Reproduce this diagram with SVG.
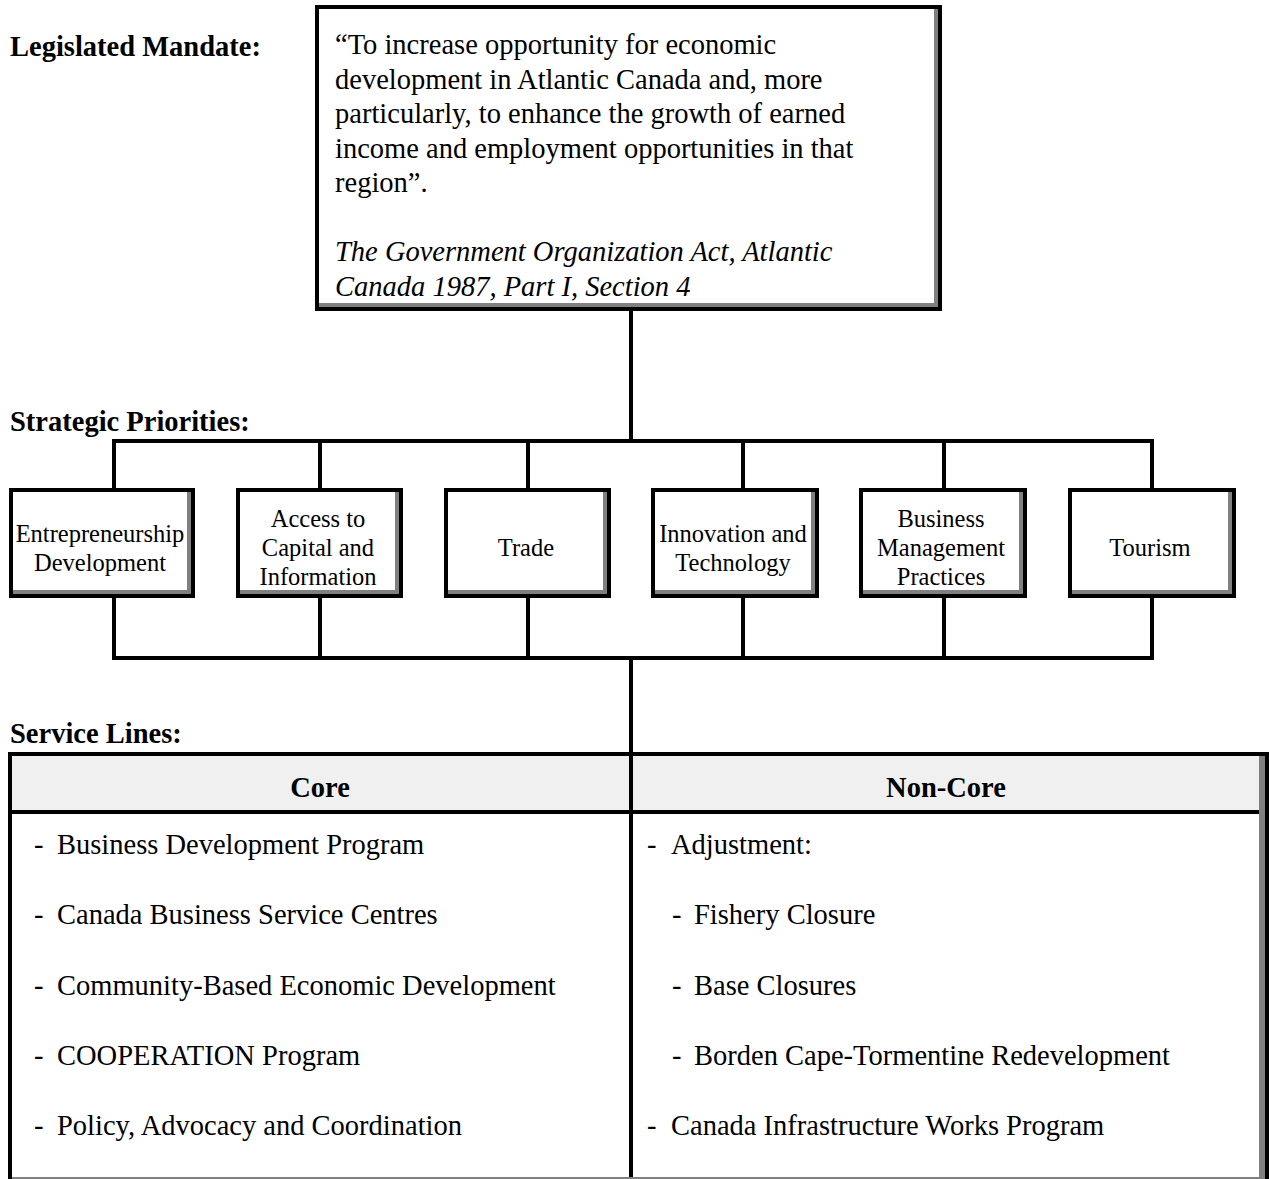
<svg xmlns="http://www.w3.org/2000/svg" width="1269" height="1179" viewBox="0 0 1269 1179">
<style>
  .bk { fill: #000; }
  .gr { fill: #808080; }
  .wh { fill: #fff; }
  .hd { fill: #f0f0f0; }
  .t { font-family: "Liberation Serif", "Times New Roman", serif; font-size: 28.5px; fill: #000; }
  .b { font-weight: bold; }
  .i { font-style: italic; }
  .lb { font-family: "Liberation Serif", "Times New Roman", serif; font-size: 24.5px; fill: #000; text-anchor: middle; }
  .c { text-anchor: middle; }
  .ln { stroke: #000; stroke-width: 4; fill: none; }
</style>
<rect x="0" y="0" width="1269" height="1179" fill="#fff"/>

<g id="section-labels">
  <text class="t b" x="10" y="56">Legislated Mandate:</text>
  <text class="t b" x="10" y="431">Strategic Priorities:</text>
  <text class="t b" x="10" y="743">Service Lines:</text>
</g>

<g id="connectors">
  <line class="ln" x1="631" y1="311" x2="631" y2="443"/>
  <line class="ln" x1="112" y1="441" x2="1154" y2="441"/>
  <line class="ln" x1="114" y1="439" x2="114" y2="488"/>
  <line class="ln" x1="320" y1="439" x2="320" y2="488"/>
  <line class="ln" x1="528" y1="439" x2="528" y2="488"/>
  <line class="ln" x1="743" y1="439" x2="743" y2="488"/>
  <line class="ln" x1="944" y1="439" x2="944" y2="488"/>
  <line class="ln" x1="1152" y1="439" x2="1152" y2="488"/>
  <line class="ln" x1="114" y1="598" x2="114" y2="660"/>
  <line class="ln" x1="320" y1="598" x2="320" y2="660"/>
  <line class="ln" x1="528" y1="598" x2="528" y2="660"/>
  <line class="ln" x1="743" y1="598" x2="743" y2="660"/>
  <line class="ln" x1="944" y1="598" x2="944" y2="660"/>
  <line class="ln" x1="1152" y1="598" x2="1152" y2="660"/>
  <line class="ln" x1="112" y1="658" x2="1154" y2="658"/>
  <line class="ln" x1="631" y1="656" x2="631" y2="754"/>
</g>

<g id="mandate">
  <rect class="bk" x="315" y="5" width="627" height="306"/>
  <rect class="gr" x="319" y="9" width="619" height="298"/>
  <rect class="wh" x="319" y="9" width="615" height="294"/>
  <text class="t" x="335" y="54">“To increase opportunity for economic</text>
  <text class="t" x="335" y="88.5">development in Atlantic Canada and, more</text>
  <text class="t" x="335" y="123">particularly, to enhance the growth of earned</text>
  <text class="t" x="335" y="157.5">income and employment opportunities in that</text>
  <text class="t" x="335" y="192">region”.</text>
  <text class="t i" x="335" y="261">The Government Organization Act, Atlantic</text>
  <text class="t i" x="335" y="295.5">Canada 1987, Part I, Section 4</text>
</g>

<g id="p-entrepreneurship">
  <rect class="bk" x="9" y="488" width="186" height="110"/>
  <rect class="gr" x="13" y="492" width="178" height="102"/>
  <rect class="wh" x="13" y="492" width="174" height="98"/>
  <text class="lb" x="100" y="542">Entrepreneurship</text>
  <text class="lb" x="100" y="571">Development</text>
</g>
<g id="p-access">
  <rect class="bk" x="236" y="488" width="167" height="110"/>
  <rect class="gr" x="240" y="492" width="159" height="102"/>
  <rect class="wh" x="240" y="492" width="155" height="98"/>
  <text class="lb" x="318" y="527">Access to</text>
  <text class="lb" x="318" y="556">Capital and</text>
  <text class="lb" x="318" y="585">Information</text>
</g>
<g id="p-trade">
  <rect class="bk" x="444" y="488" width="167" height="110"/>
  <rect class="gr" x="448" y="492" width="159" height="102"/>
  <rect class="wh" x="448" y="492" width="155" height="98"/>
  <text class="lb" x="526" y="556">Trade</text>
</g>
<g id="p-innovation">
  <rect class="bk" x="651" y="488" width="168" height="110"/>
  <rect class="gr" x="655" y="492" width="160" height="102"/>
  <rect class="wh" x="655" y="492" width="156" height="98"/>
  <text class="lb" x="733" y="542">Innovation and</text>
  <text class="lb" x="733" y="571">Technology</text>
</g>
<g id="p-business">
  <rect class="bk" x="859" y="488" width="168" height="110"/>
  <rect class="gr" x="863" y="492" width="160" height="102"/>
  <rect class="wh" x="863" y="492" width="156" height="98"/>
  <text class="lb" x="941" y="527">Business</text>
  <text class="lb" x="941" y="556">Management</text>
  <text class="lb" x="941" y="585">Practices</text>
</g>
<g id="p-tourism">
  <rect class="bk" x="1068" y="488" width="168" height="110"/>
  <rect class="gr" x="1072" y="492" width="160" height="102"/>
  <rect class="wh" x="1072" y="492" width="156" height="98"/>
  <text class="lb" x="1150" y="556">Tourism</text>
</g>

<g id="service-table">
  <rect class="bk" x="8" y="752" width="1261" height="440"/>
  <rect class="gr" x="12" y="756" width="1253" height="440"/>
  <rect class="wh" x="12" y="756" width="1247" height="421"/>
  <rect class="hd" x="12" y="756" width="1247" height="54"/>
  <rect class="bk" x="12" y="810" width="1247" height="4"/>
  <rect class="bk" x="629" y="756" width="4" height="421"/>
  <text class="t b c" x="320" y="797">Core</text>
  <text class="t b c" x="946" y="797">Non-Core</text>
  <text class="t" y="854"><tspan x="34">-</tspan><tspan x="57">Business Development Program</tspan></text>
  <text class="t" y="924.3"><tspan x="34">-</tspan><tspan x="57">Canada Business Service Centres</tspan></text>
  <text class="t" y="994.6"><tspan x="34">-</tspan><tspan x="57">Community-Based Economic Development</tspan></text>
  <text class="t" y="1064.9"><tspan x="34">-</tspan><tspan x="57">COOPERATION Program</tspan></text>
  <text class="t" y="1135.2"><tspan x="34">-</tspan><tspan x="57">Policy, Advocacy and Coordination</tspan></text>
  <text class="t" y="854"><tspan x="647">-</tspan><tspan x="671">Adjustment:</tspan></text>
  <text class="t" y="924.3"><tspan x="672">-</tspan><tspan x="694">Fishery Closure</tspan></text>
  <text class="t" y="994.6"><tspan x="672">-</tspan><tspan x="694">Base Closures</tspan></text>
  <text class="t" y="1064.9"><tspan x="672">-</tspan><tspan x="694">Borden Cape-Tormentine Redevelopment</tspan></text>
  <text class="t" y="1135.2"><tspan x="647">-</tspan><tspan x="671">Canada Infrastructure Works Program</tspan></text>
</g>
</svg>
